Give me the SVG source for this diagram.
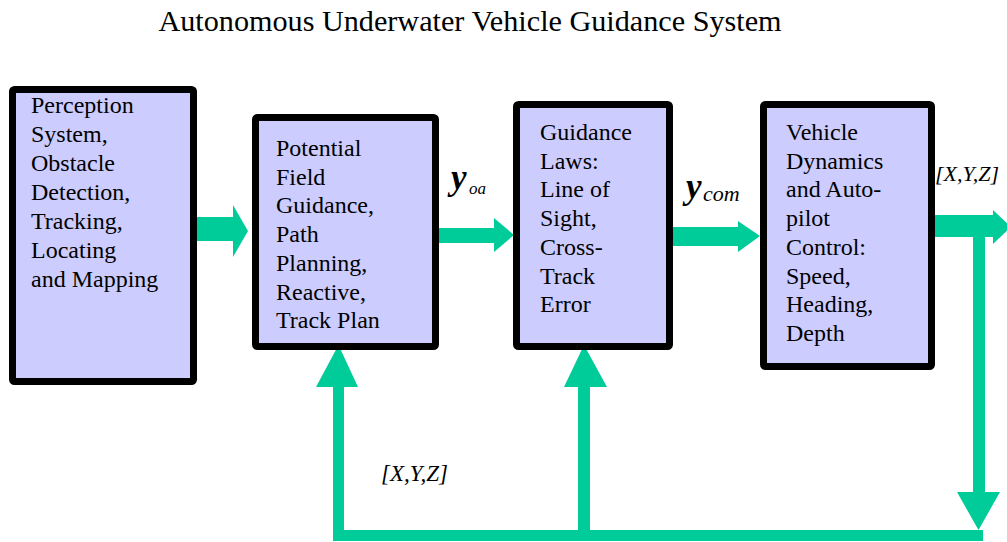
<svg xmlns="http://www.w3.org/2000/svg" width="1007" height="542" viewBox="0 0 1007 542">
<style>
.box{fill:#CCCCFF;stroke:#000;stroke-width:7;stroke-linejoin:round}
.bt{font-family:"Liberation Serif","Times New Roman",serif;font-size:24px;fill:#000}
.title{font-family:"Liberation Serif","Times New Roman",serif;font-size:30.2px;fill:#000}
.lbl{font-family:"Liberation Serif","Times New Roman",serif;font-style:italic;fill:#000}
.yb{font-family:"Liberation Serif","Times New Roman",serif;font-style:italic;font-weight:bold;font-size:35px;fill:#000}
.g{fill:#00CC99}
</style>
<rect width="1007" height="542" fill="#fff"/>
<text class="title" x="470" y="31" text-anchor="middle">Autonomous Underwater Vehicle Guidance System</text>

<g id="connectors">
  <polygon class="g" points="197,217 233,217 233,205 248,231 233,257 233,241 197,241"/>
  <polygon class="g" points="439,228 494,228 494,218 514,235 494,252 494,243 439,243"/>
  <polygon class="g" points="673,227 738,227 738,221 760,236 738,252 738,246 673,246"/>
  <polygon class="g" points="935,215 993,215 993,210 1011,227 993,244 993,237 935,237"/>
  <polygon class="g" points="973,237 985,237 985,492 1000,492 978.5,530 957,492 973,492"/>
  <rect class="g" x="333" y="530" width="650" height="11"/>
  <polygon class="g" points="333,541 333,387 316,387 338.5,345 358,387 344,387 344,541"/>
  <polygon class="g" points="578,530 578,387 564,387 584,345 607,387 590,387 590,530"/>
  <text class="yb" x="451" y="189">y</text><text class="lbl" x="469" y="194" font-size="17">oa</text>
  <text class="yb" x="686" y="198">y</text><text class="lbl" x="703" y="201" font-size="22">com</text>
  <text class="lbl" x="935" y="181" font-size="22">[X,Y,Z]</text>
  <text class="lbl" x="381" y="481" font-size="23">[X,Y,Z]</text>
</g>

<g id="perception">
  <rect class="box" x="12.5" y="89.5" width="181" height="292" rx="2"/>
  <text class="bt" x="31" y="113"><tspan x="31">Perception</tspan><tspan x="31" dy="29">System,</tspan><tspan x="31" dy="29">Obstacle</tspan><tspan x="31" dy="29">Detection,</tspan><tspan x="31" dy="29">Tracking,</tspan><tspan x="31" dy="29">Locating</tspan><tspan x="31" dy="29">and Mapping</tspan></text>
</g>
<g id="potential">
  <rect class="box" x="255.5" y="117.5" width="180" height="229" rx="2"/>
  <text class="bt" x="276" y="156"><tspan x="276">Potential</tspan><tspan x="276" dy="28.7">Field</tspan><tspan x="276" dy="28.7">Guidance,</tspan><tspan x="276" dy="28.7">Path</tspan><tspan x="276" dy="28.7">Planning,</tspan><tspan x="276" dy="28.7">Reactive,</tspan><tspan x="276" dy="28.7">Track Plan</tspan></text>
</g>
<g id="guidance">
  <rect class="box" x="516.5" y="104.5" width="153" height="242" rx="2"/>
  <text class="bt" x="540" y="140"><tspan x="540">Guidance</tspan><tspan x="540" dy="28.7">Laws:</tspan><tspan x="540" dy="28.7">Line of</tspan><tspan x="540" dy="28.7">Sight,</tspan><tspan x="540" dy="28.7">Cross-</tspan><tspan x="540" dy="28.7">Track</tspan><tspan x="540" dy="28.7">Error</tspan></text>
</g>
<g id="vehicle">
  <rect class="box" x="763.5" y="104.5" width="168" height="262" rx="2"/>
  <text class="bt" x="786" y="140"><tspan x="786">Vehicle</tspan><tspan x="786" dy="28.7">Dynamics</tspan><tspan x="786" dy="28.7">and Auto-</tspan><tspan x="786" dy="28.7">pilot</tspan><tspan x="786" dy="28.7">Control:</tspan><tspan x="786" dy="28.7">Speed,</tspan><tspan x="786" dy="28.7">Heading,</tspan><tspan x="786" dy="28.7">Depth</tspan></text>
</g>
</svg>
